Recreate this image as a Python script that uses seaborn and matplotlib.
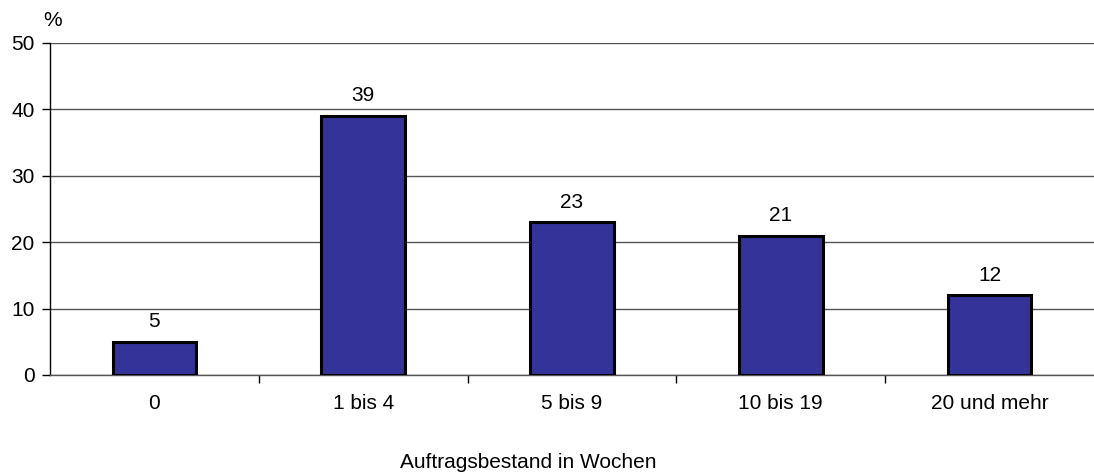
import matplotlib
matplotlib.use("Agg")
import matplotlib.pyplot as plt
import seaborn as sns
import pandas as pd

categories = ["0", "1 bis 4", "5 bis 9", "10 bis 19", "20 und mehr"]
values = [5, 39, 23, 21, 12]

sns.set_style("white")
plt.rcParams["font.family"] = ["Liberation Sans", "DejaVu Sans"]
plt.rcParams["text.color"] = "black"
plt.rcParams["xtick.color"] = "black"
plt.rcParams["ytick.color"] = "black"
plt.rcParams["xtick.labelcolor"] = "black"
plt.rcParams["ytick.labelcolor"] = "black"

FS = 15

df = pd.DataFrame({"Kategorie": categories, "Anteil": values})

fig = plt.figure(figsize=(10.94, 4.72), dpi=100)
ax = fig.add_axes([50 / 1094, 97 / 472, 1044 / 1094, 332 / 472])

sns.barplot(data=df, x="Kategorie", y="Anteil", color="#333399", width=0.4,
            edgecolor="black", linewidth=2.2, saturation=1, ax=ax, zorder=3)

ax.set_ylim(0, 50)
ax.set_xlim(-0.5, len(categories) - 0.5)
ax.set_yticks(range(0, 51, 10))
ax.yaxis.grid(True, color="#555555", linewidth=1)
ax.set_axisbelow(True)

for s in ["top", "right"]:
    ax.spines[s].set_visible(False)
ax.spines["left"].set_color("black")
ax.spines["left"].set_linewidth(1)
ax.spines["bottom"].set_color("#555555")
ax.spines["bottom"].set_linewidth(1)

ax.tick_params(axis="y", direction="out", length=6, width=1, color="black",
               labelsize=FS, pad=5, left=True)
ax.set_xticks(range(len(categories)))
ax.set_xticklabels(categories)
ax.tick_params(axis="x", which="major", length=0, labelsize=FS, pad=14)
ax.set_xticks([i + 0.5 for i in range(len(categories) - 1)], minor=True)
ax.tick_params(axis="x", which="minor", direction="out", length=6, width=1,
               color="black", bottom=True)

for i, v in enumerate(values):
    ax.text(i, v + 1.6, str(v), ha="center", va="bottom", fontsize=FS)

ax.set_xlabel("")
ax.set_ylabel("")
fig.text(528 / 1094, 1 - 462 / 472, "Auftragsbestand in Wochen",
         ha="center", va="center", fontsize=FS)
fig.text(53 / 1094, 1 - 20 / 472, "%", ha="center", va="center", fontsize=FS)

fig.savefig("out.png", dpi=100)
